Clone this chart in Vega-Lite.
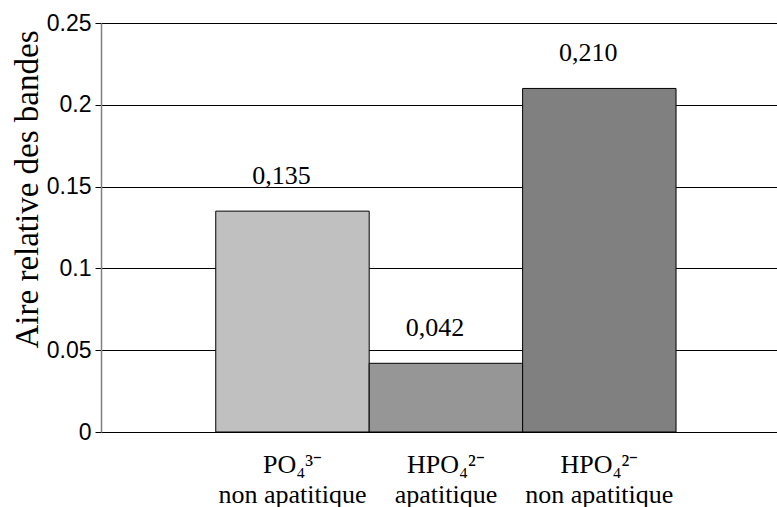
{
  "$schema": "https://vega.github.io/schema/vega-lite/v6.json",
  "width": 676,
  "height": 409,
  "autosize": "none",
  "padding": {"left": 101, "top": 23, "right": 0, "bottom": 75},
  "background": "white",
  "config": {"view": {"stroke": null}},
  "data": {
    "values": [
      {"cat": "PO\u2084\u00b3\u207b\u00a0\u00a0\u00a0\u00a0\u00a0\u00a0\u00a0\u00a0|non apatitique", "value": 0.135, "label": "0,135"},
      {"cat": "HPO\u2084\u00b2\u207b|apatitique", "value": 0.042, "label": "0,042"},
      {"cat": "HPO\u2084\u00b2\u207b|non apatitique", "value": 0.210, "label": "0,210"}
    ]
  },
  "encoding": {
    "x": {
      "field": "cat",
      "type": "nominal",
      "sort": null,
      "scale": {"paddingInner": 0, "paddingOuter": 0.703, "align": 0.532},
      "axis": {
        "title": null,
        "labelAngle": 0,
        "labelExpr": "split(datum.value, '|')",
        "labelFont": "Liberation Serif",
        "labelFontSize": 26,
        "labelColor": "black",
        "labelLineHeight": 30,
        "labelPadding": 40,
        "labelBaseline": "alphabetic",
        "ticks": false,
        "domainColor": "black",
        "domainWidth": 1
      }
    },
    "y": {
      "field": "value",
      "type": "quantitative",
      "scale": {"domain": [0, 0.25], "nice": false},
      "axis": {
        "values": [0, 0.05, 0.1, 0.15, 0.2, 0.25],
        "format": ".2~f",
        "title": "Aire relative des bandes",
        "titleFont": "Liberation Serif",
        "titleFontSize": 33,
        "titleFontWeight": "normal",
        "titleColor": "black",
        "titleX": -64,
        "titleY": 166,
        "titleAlign": "center",
        "titleBaseline": "alphabetic",
        "labelFont": "Liberation Sans",
        "labelFontSize": 23,
        "labelColor": "black",
        "labelPadding": 4,
        "tickSize": 6,
        "tickColor": "black",
        "domainColor": "#808080",
        "domainWidth": 1.5,
        "grid": true,
        "gridColor": "black",
        "gridWidth": 1,
        "gridOpacity": 1
      }
    }
  },
  "layer": [
    {
      "mark": {"type": "bar", "stroke": "black", "strokeWidth": 1},
      "encoding": {
        "color": {
          "field": "cat",
          "type": "nominal",
          "sort": null,
          "scale": {"range": ["#c0c0c0", "#969696", "#808080"]},
          "legend": null
        }
      }
    },
    {
      "mark": {
        "type": "text",
        "font": "Liberation Serif",
        "fontSize": 26,
        "color": "black",
        "baseline": "alphabetic",
        "dy": -27,
        "dx": -11
      },
      "encoding": {"text": {"field": "label"}}
    }
  ]
}
